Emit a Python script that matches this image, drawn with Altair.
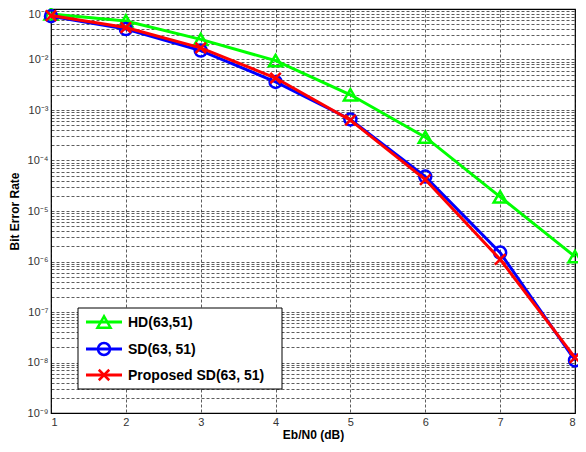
import altair as alt
import pandas as pd

# ---- data ----
snr = [1, 2, 3, 4, 5, 6, 7, 8]
hd = [0.08, 0.058, 0.025, 0.0095, 0.002, 2.9e-4, 1.9e-5, 1.25e-6]
sd = [0.072, 0.040, 0.015, 3.6e-3, 6.5e-4, 4.8e-5, 1.5e-6, 1.1e-8]
prop = [0.074, 0.043, 0.017, 4.3e-3, 6.3e-4, 4.2e-5, 1.1e-6, 1.25e-8]

names = ["HD(63,51)", "SD(63, 51)", "Proposed SD(63, 51)"]
colors = ["#00ff00", "#0000ff", "#ff0000"]
shapes = ["triangle-up", "circle", "M-1,-1L1,1M-1,1L1,-1"]
sizes = [170, 144, 110]
series = [hd, sd, prop]

FONT = "Liberation Sans"

y_vals = [m * 10.0 ** e for e in range(-9, -1) for m in range(1, 10)] + [0.1]
sup = ["10⁻⁹", "10⁻⁸", "10⁻⁷", "10⁻⁶", "10⁻⁵", "10⁻⁴", "10⁻³", "10⁻²", "10⁻¹"]
sup_expr = "[" + ",".join("'%s'" % s for s in sup) + "]"
label_expr = (
    "abs(log(datum.value)/LN10 - round(log(datum.value)/LN10)) < 0.001 ? "
    + sup_expr + "[round(log(datum.value)/LN10) + 9] : ''"
)

grid_style = dict(gridDash=[3, 2], gridColor="#000", gridOpacity=0.8, gridWidth=0.8)

x_enc = alt.X(
    "x:Q",
    scale=alt.Scale(domain=[1, 8], nice=False, zero=False),
    axis=alt.Axis(
        title="Eb/N0 (dB)", values=snr, format="d", grid=True, **grid_style,
        ticks=False, domain=False, labelFont=FONT, labelFontSize=11,
        labelColor="#333", labelPadding=3, titleFont=FONT, titleFontSize=12,
        titleFontWeight="bold", titleColor="#000", titlePadding=2,
    ),
)
y_enc = alt.Y(
    "y:Q",
    scale=alt.Scale(type="log", domain=[1e-9, 1e-1], nice=False),
    axis=alt.Axis(
        title="Bit Error Rate", values=y_vals, labelExpr=label_expr, grid=True,
        **grid_style, ticks=False, domain=False, labelFont=FONT, labelFontSize=11,
        labelColor="#333", labelPadding=3, labelOverlap=False,
        labelOffset={"condition": {"test": "datum.value > 0.05", "value": 5}, "value": 0},
        titleFont=FONT, titleFontSize=12, titleFontWeight="bold",
        titleColor="#000", titlePadding=6,
    ),
)

layers = []
for name, vals, col, shp, sz in zip(names, series, colors, shapes, sizes):
    df = pd.DataFrame({"x": snr, "y": vals, "series": name})
    base = alt.Chart(df)
    layers.append(base.mark_line(color=col, strokeWidth=3).encode(x=x_enc, y=y_enc))
    layers.append(
        base.mark_point(shape=shp, size=sz, color=col, filled=False, strokeWidth=2.5, opacity=1)
        .encode(x=x_enc, y=y_enc)
    )

# ---- manual legend (inside, lower-left) ----
leg_df = pd.DataFrame({"series": names})
box = alt.Chart(leg_df.head(1)).mark_rect(fill="white", stroke="#000", strokeWidth=1).encode(
    x=alt.value(27), x2=alt.value(231), y=alt.value(299), y2=alt.value(380)
)
layers.append(box)
row_y = [313, 340, 366]
for i, (name, col, shp, sz) in enumerate(zip(names, colors, shapes, sizes)):
    c = alt.Chart(pd.DataFrame({"series": [name]}))
    layers.append(c.mark_rule(color=col, strokeWidth=3).encode(
        x=alt.value(35), x2=alt.value(71), y=alt.value(row_y[i])))
    layers.append(c.mark_point(shape=shp, size=sz, color=col, filled=False,
                               strokeWidth=2.5, opacity=1)
                  .encode(x=alt.value(53), y=alt.value(row_y[i])))
    layers.append(c.mark_text(align="left", baseline="middle", font=FONT, fontSize=14,
                              fontWeight="bold", color="#000")
                  .encode(x=alt.value(77), y=alt.value(row_y[i] + 1), text="series:N"))

chart = alt.layer(*layers).properties(
    width=524, height=404,
    autosize=alt.AutoSizeParams(type="none"),
    padding={"left": 43, "top": 1, "right": 3, "bottom": 31},
).configure_view(stroke="#000", strokeWidth=1.2)

chart.save("out.html", embed_options={"renderer": "svg", "actions": False})
